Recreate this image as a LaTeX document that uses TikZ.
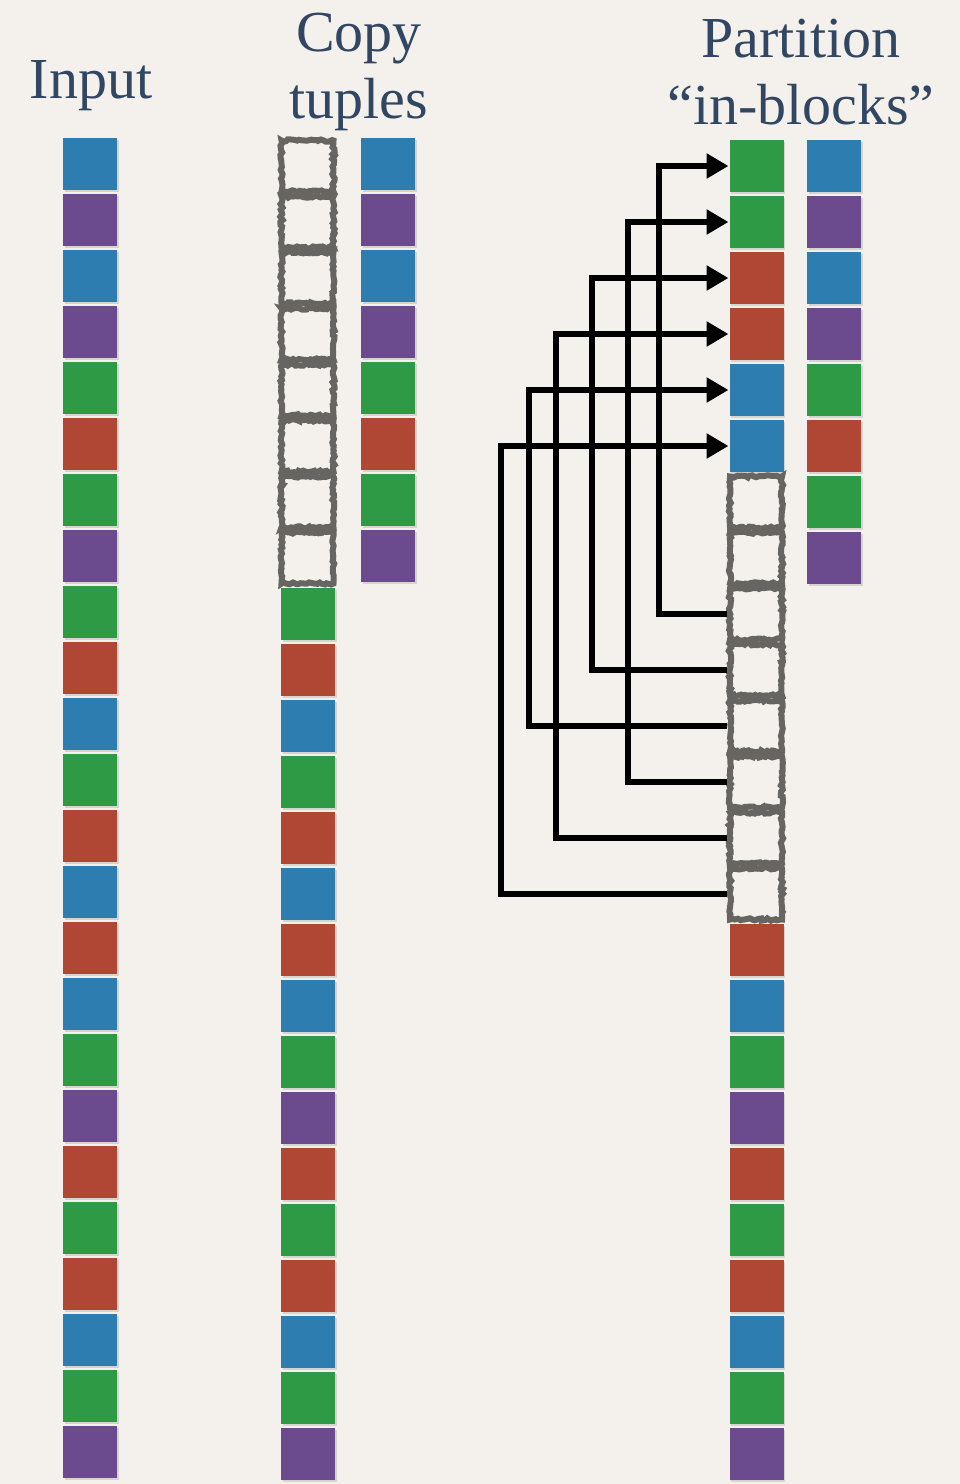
\documentclass[tikz,border=0pt]{standalone}
\usepackage{fontspec}
\setmainfont{Liberation Serif}
\usetikzlibrary{arrows.meta,decorations.pathmorphing,shadows}

\definecolor{paper}{RGB}{244,241,236}
\definecolor{tB}{RGB}{46,125,176}
\definecolor{tP}{RGB}{108,74,142}
\definecolor{tG}{RGB}{47,154,69}
\definecolor{tR}{RGB}{176,71,52}
\definecolor{slotgray}{RGB}{102,101,97}
\definecolor{titleblue}{RGB}{48,70,98}
\newcommand{\headfont}{\fontsize{58}{67}\selectfont}

\begin{document}
\begin{tikzpicture}[
  x=1pt, y=-1pt,
  cell/.style={minimum width=54pt, minimum height=52pt, inner sep=0pt, outer sep=0pt,
    drop shadow={opacity=0.25, shadow xshift=1.5pt, shadow yshift=-1.5pt}},
  slot/.style={draw=slotgray, line width=6pt, minimum width=52pt, minimum height=51pt,
    inner sep=0pt, decorate, decoration={random steps, segment length=2.5pt, amplitude=1.2pt}},
  link/.style={line width=5.5pt, -{Triangle[length=22pt, width=24pt]}, shorten >=1pt},
  heading/.style={text=titleblue, font=\headfont, align=center}
]
\pgfmathsetseed{7}
\fill[paper] (0,0) rectangle (960,1484);
\useasboundingbox (0,0) rectangle (960,1484);

% titles
\node[heading] (inlabel) at (91,86) {Input};
\node[heading] (copylabel) at (359,72) {Copy\\tuples};
\node[heading] (partlabel) at (801,72) {Partition\\“in-blocks”};

% input
\foreach \c [count=\i] in {B,P,B,P,G,R,G,P,G,R,B,G,R,B,R,B,G,P,R,G,R,B,G,P}
  \node[cell, fill=t\c] (in\i) at (90,{164+56*(\i-1)}) {};

% copy tuples
\foreach \k in {1,...,8}
  \node[slot] (cs\k) at (307.5,{166+56*(\k-1)}) {};
\foreach \c [count=\i from 9] in {G,R,B,G,R,B,R,B,G,P,R,G,R,B,G,P}
  \node[cell, fill=t\c] (cp\i) at (308,{166+56*(\i-1)}) {};
\foreach \c [count=\i] in {B,P,B,P,G,R,G,P}
  \node[cell, fill=t\c] (cr\i) at (388,{164+56*(\i-1)}) {};

% partition in-blocks
\foreach \c [count=\i] in {G,G,R,R,B,B}
  \node[cell, fill=t\c] (pp\i) at (756.5,{166+56*(\i-1)}) {};
\foreach \k in {1,...,8}
  \node[slot] (ps\k) at (756,{502+56*(\k-1)}) {};
\foreach \c [count=\i from 15] in {R,B,G,P,R,G,R,B,G,P}
  \node[cell, fill=t\c] (pp\i) at (756.5,{950+56*(\i-15)}) {};
\foreach \c [count=\i] in {B,P,B,P,G,R,G,P}
  \node[cell, fill=t\c] (pr\i) at (834,{166+56*(\i-1)}) {};

\draw[link] (ps3.west) -- ++(-68,0) |- (pp1.west);
\draw[link] (ps4.west) -- ++(-135,0) |- (pp3.west);
\draw[link] (ps5.west) -- ++(-198,0) |- (pp5.west);
\draw[link] (ps6.west) -- ++(-99,0) |- (pp2.west);
\draw[link] (ps7.west) -- ++(-171,0) |- (pp4.west);
\draw[link] (ps8.west) -- ++(-226,0) |- (pp6.west);
\end{tikzpicture}
\end{document}
